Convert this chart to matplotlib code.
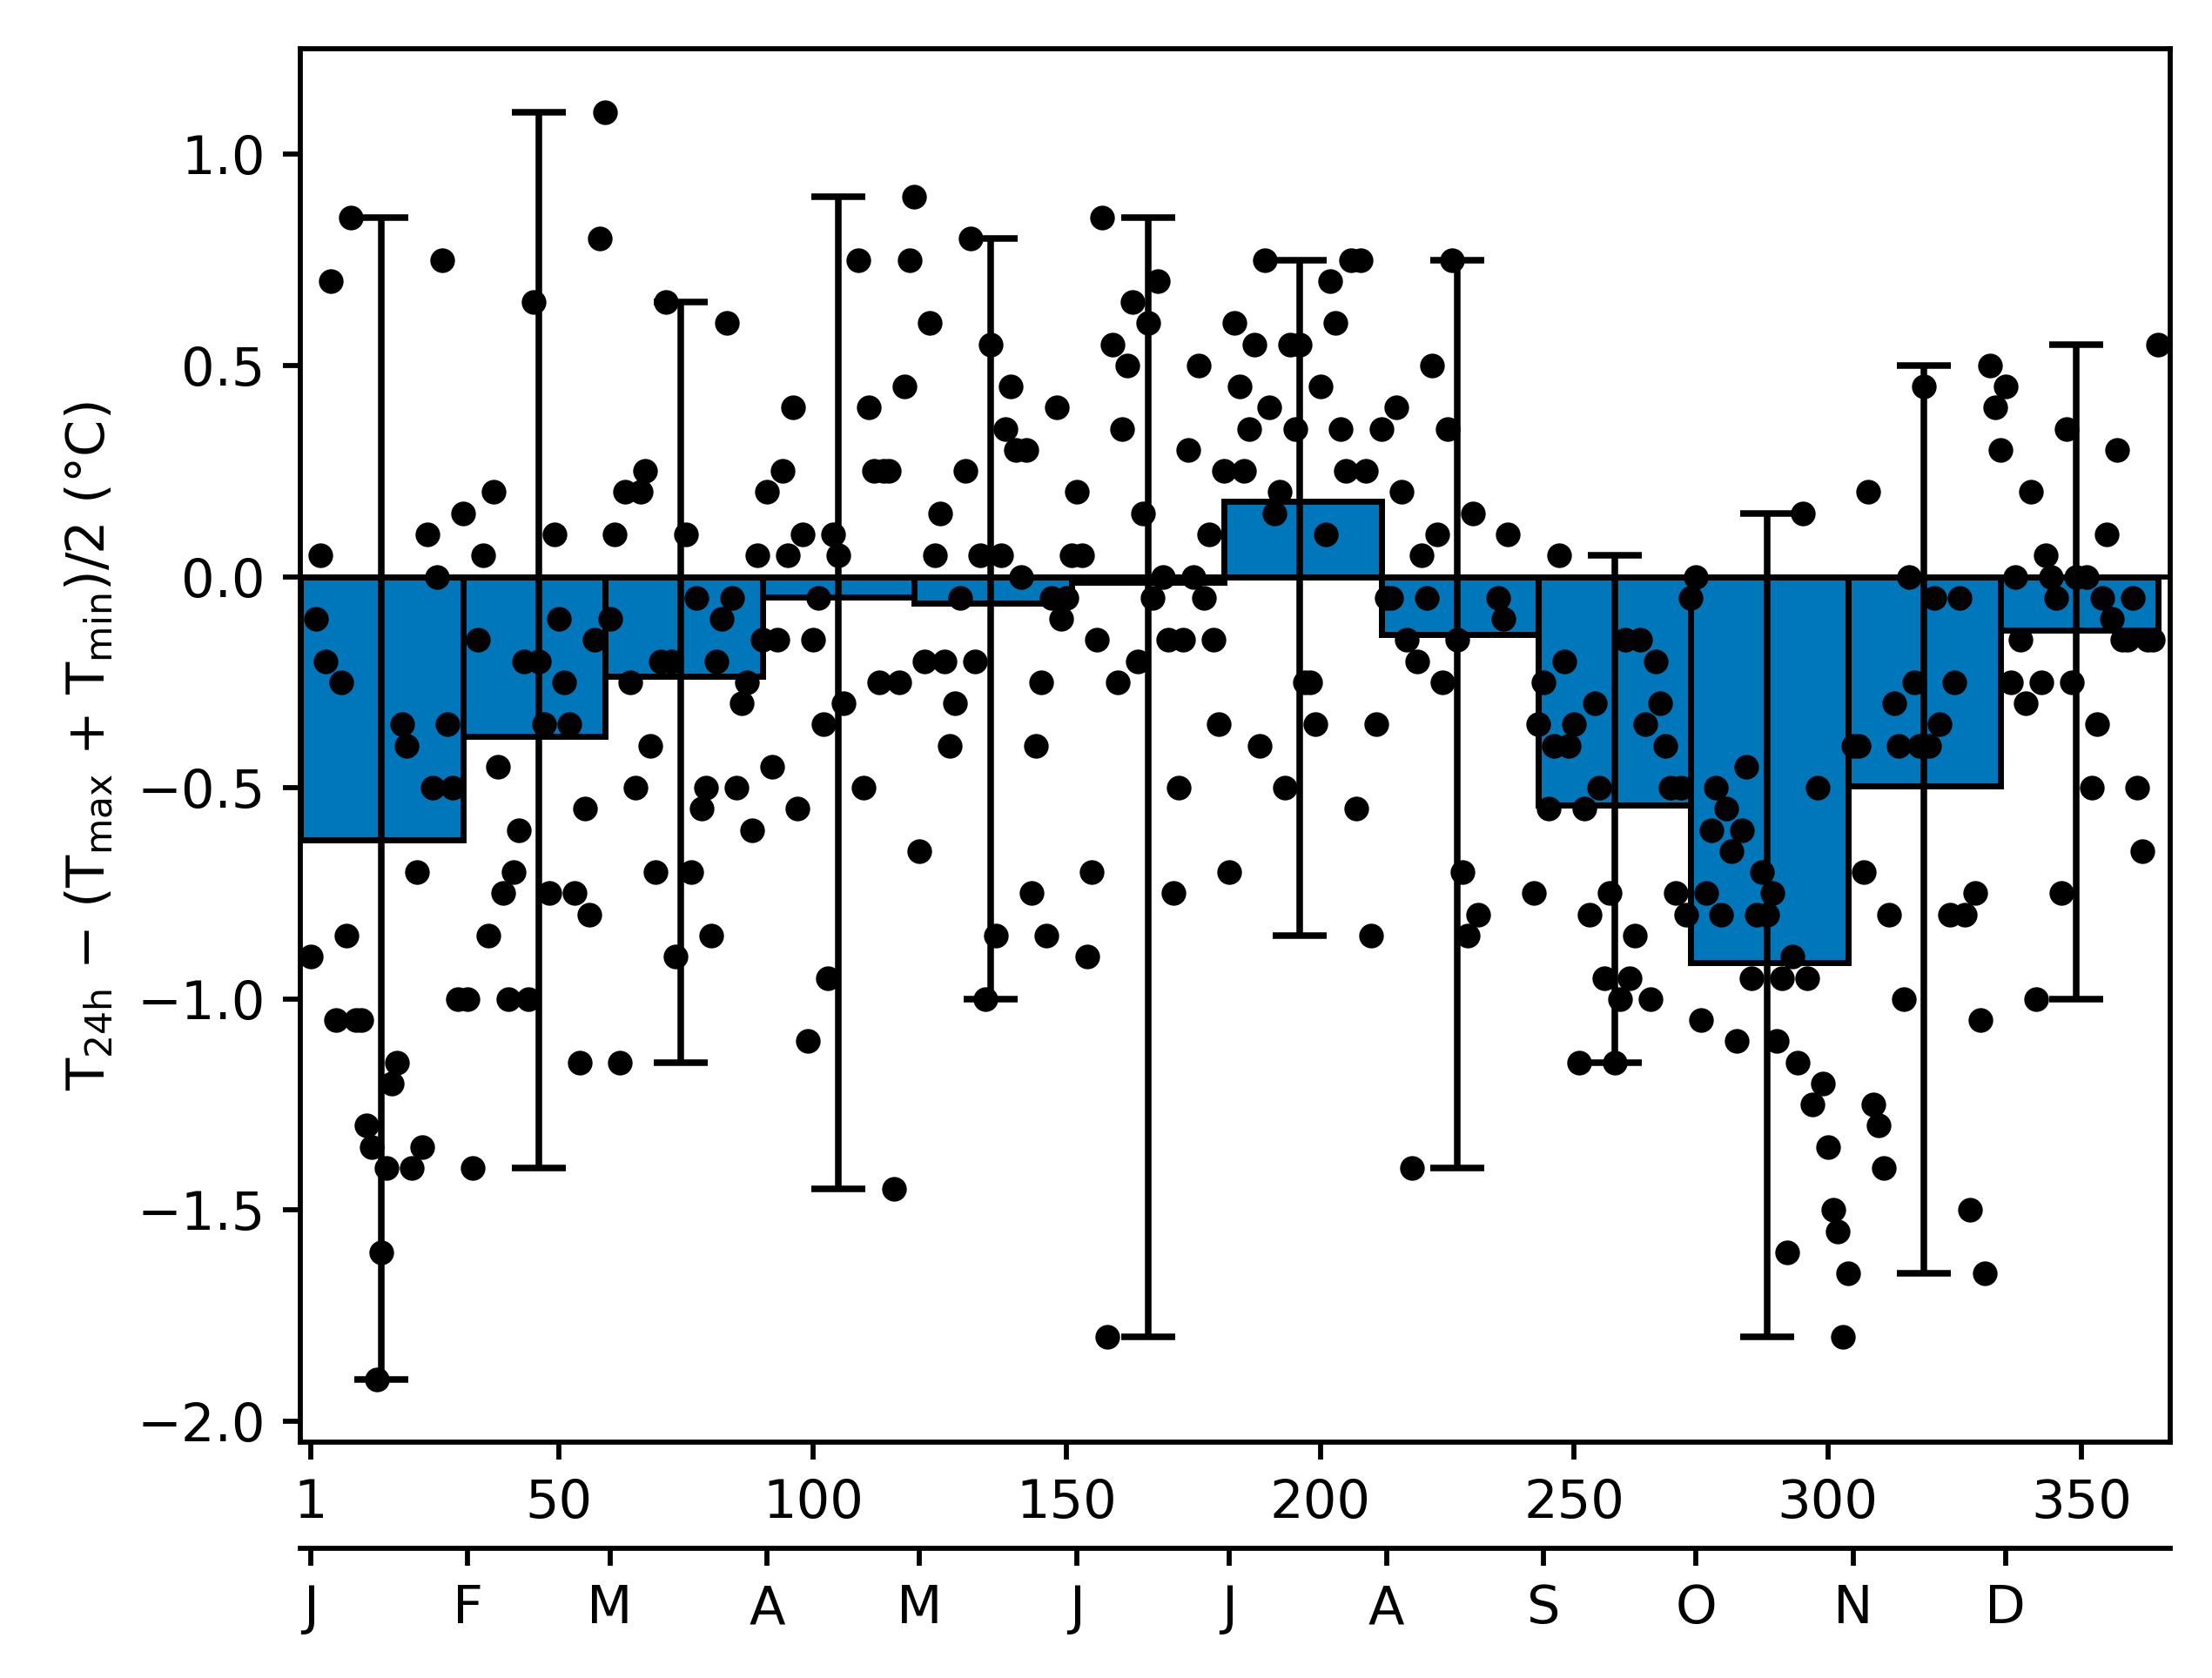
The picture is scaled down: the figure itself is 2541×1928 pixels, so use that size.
import numpy as np
import matplotlib.pyplot as plt

nan = np.nan

month_letters = ['J', 'F', 'M', 'A', 'M', 'J', 'J', 'A', 'S', 'O', 'N', 'D']
month_start = np.array([1, 32, 60, 91, 121, 152, 182, 213, 244, 274, 305, 335])
month_len = np.array([31, 28, 31, 30, 31, 30, 31, 31, 30, 31, 30, 31])
day_ticks = [1, 50, 100, 150, 200, 250, 300, 350]

# daily values, one entry per day of each month (nan = no data)
jan = [-0.90, -0.10, 0.05, -0.20, 0.70, -1.05, -0.25, -0.85, 0.85, -1.05,
       -1.05, -1.30, -1.35, -1.90, -1.60, -1.40, -1.20, -1.15, -0.35, -0.40,
       -1.40, -0.70, -1.35, 0.10, -0.50, 0.00, 0.75, -0.35, -0.50, -1.00, 0.15]
feb = [-1.00, -1.40, -0.15, 0.05, -0.85, 0.20, -0.45, -0.75, -1.00, -0.70,
       -0.60, -0.20, -1.00, 0.65, -0.20, -0.35, -0.75, 0.10, -0.10, -0.25,
       -0.35, -0.75, -1.15, -0.55, -0.80, -0.15, 0.80, 1.10]
mar = [-0.10, 0.10, -1.15, 0.20, -0.25, -0.50, 0.20, 0.25, -0.40, -0.70,
       -0.20, 0.65, -0.20, -0.90, nan, 0.10, -0.70, -0.05, -0.55, -0.50,
       -0.85, -0.20, -0.10, 0.60, -0.05, -0.50, -0.30, -0.25, -0.60, 0.05, -0.15]
apr = [0.20, -0.45, -0.15, 0.25, 0.05, 0.40, -0.55, 0.10, -1.10, -0.15,
       -0.05, -0.35, -0.95, 0.10, 0.05, -0.30, nan, nan, 0.75, -0.50,
       0.40, 0.25, -0.25, 0.25, 0.25, -1.45, -0.25, 0.45, 0.75, 0.90]
may = [-0.65, -0.20, 0.60, 0.05, 0.15, -0.20, -0.40, -0.30, -0.05, 0.25,
       0.80, -0.20, 0.05, -1.00, 0.55, -0.85, 0.05, 0.35, 0.45, 0.30,
       0.00, 0.30, -0.75, -0.40, -0.25, -0.85, -0.05, 0.40, -0.10, -0.05, 0.05]
jun = [0.20, 0.05, -0.90, -0.70, -0.15, 0.85, -1.80, 0.55, -0.25, 0.35,
       0.50, 0.65, -0.20, 0.15, 0.60, -0.05, 0.70, 0.00, -0.15, -0.75,
       -0.50, -0.15, 0.30, 0.00, 0.50, -0.05, 0.10, -0.15, -0.35, 0.25]
jul = [-0.70, 0.60, 0.45, 0.25, 0.35, 0.55, -0.40, 0.75, 0.40, 0.15,
       0.20, -0.50, 0.55, 0.35, 0.55, -0.25, -0.25, -0.35, 0.45, 0.10,
       0.70, 0.60, 0.35, 0.25, 0.75, -0.55, 0.75, 0.25, -0.85, -0.35, 0.35]
aug = [-0.05, -0.05, 0.40, 0.20, -0.15, -1.40, -0.20, 0.05, -0.05, 0.50,
       0.10, -0.25, 0.35, 0.75, -0.15, -0.70, -0.85, 0.15, -0.80, nan,
       nan, nan, -0.05, -0.10, 0.10, nan, nan, nan, nan, -0.75, -0.35]
sep = [-0.25, -0.55, -0.40, 0.05, -0.20, -0.40, -0.35, -1.15, -0.55, -0.80,
       -0.30, -0.50, -0.95, -0.75, -1.15, -1.00, -0.15, -0.95, -0.85, -0.15,
       -0.35, -1.00, -0.20, -0.30, -0.40, -0.50, -0.75, -0.50, -0.80, -0.05]
oct_ = [0.00, -1.05, -0.75, -0.60, -0.50, -0.80, -0.55, -0.65, -1.10, -0.60,
        -0.45, -0.95, -0.80, -0.70, -0.80, -0.75, -1.10, -0.95, -1.60, -0.90,
        -1.15, 0.15, -0.95, -1.25, -0.50, -1.20, -1.35, -1.50, -1.55, -1.80, -1.65]
nov = [-0.40, -0.40, -0.70, 0.20, -1.25, -1.30, -1.40, -0.80, -0.30, -0.40,
       -1.00, 0.00, -0.25, -0.40, 0.45, -0.40, -0.05, -0.35, nan, -0.80,
       -0.25, -0.05, -0.80, -1.50, -0.75, -1.05, -1.65, 0.50, 0.40, 0.30]
dec = [0.45, -0.25, 0.00, -0.15, -0.30, 0.20, -1.00, -0.25, 0.05, 0.00,
       -0.05, -0.75, 0.35, -0.25, 0.00, nan, 0.00, -0.50, -0.35, -0.05,
       0.10, -0.10, 0.30, -0.15, -0.15, -0.05, -0.50, -0.65, -0.15, -0.15, 0.55]

monthly = [jan, feb, mar, apr, may, jun, jul, aug, sep, oct_, nov, dec]

days = np.concatenate([s + np.arange(n) for s, n in zip(month_start, month_len)])
vals = np.concatenate([np.array(m, dtype=float) for m in monthly])

means = np.array([np.nanmean(m) for m in monthly])
lows = np.array([np.nanmin(m) for m in monthly])
highs = np.array([np.nanmax(m) for m in monthly])

plt.rcParams['axes.linewidth'] = 1.0
plt.rcParams['xtick.major.width'] = 1.0
plt.rcParams['ytick.major.width'] = 1.0

DPI = 416.6
fig, ax = plt.subplots(figsize=(2541 / DPI, 1928 / DPI), dpi=DPI)
fig.subplots_adjust(left=0.1358, right=0.9812, top=0.971, bottom=0.1404)

xmin, xmax = -1, 367.5

# bars span each month, error bars sit half a month in
lefts = (month_start - 1).astype(float)
rights = lefts + month_len
lefts[0] = xmin
ax.bar(lefts, means, width=rights - lefts, align='edge', color='#0077BB',
       edgecolor='k', linewidth=1.2, zorder=2)
ax.axhline(0, color='k', linewidth=1.0, zorder=2.5)

x_err = month_start - 1 + 15
ax.errorbar(x_err, means, yerr=[means - lows, highs - means], fmt='none',
            ecolor='k', elinewidth=1.3, capsize=5.3, capthick=1.3, zorder=3)

ax.scatter(days, vals, s=24, c='k', linewidths=0, zorder=4)

ax.set_xlim(xmin, xmax)
ax.set_ylim(-2.05, 1.25)
ax.set_xticks(day_ticks)
ax.set_yticks(np.arange(-2.0, 1.01, 0.5))
ax.tick_params(labelsize=10.5)
ax.set_ylabel(r'T$_{\mathrm{24h}}$ − (T$_{\mathrm{max}}$ + T$_{\mathrm{min}}$)/2 (°C)',
              fontsize=10.5)

# month axis below
ax2 = ax.twiny()
ax2.set_xlim(xmin, xmax)
ax2.xaxis.set_ticks_position('bottom')
ax2.xaxis.set_label_position('bottom')
ax2.spines['bottom'].set_position(('outward', 21))
for sp in ['top', 'left', 'right']:
    ax2.spines[sp].set_visible(False)
ax2.set_xticks(month_start)
ax2.set_xticklabels(month_letters)
ax2.tick_params(labelsize=10.5)

fig.savefig('out.png', dpi=DPI)
